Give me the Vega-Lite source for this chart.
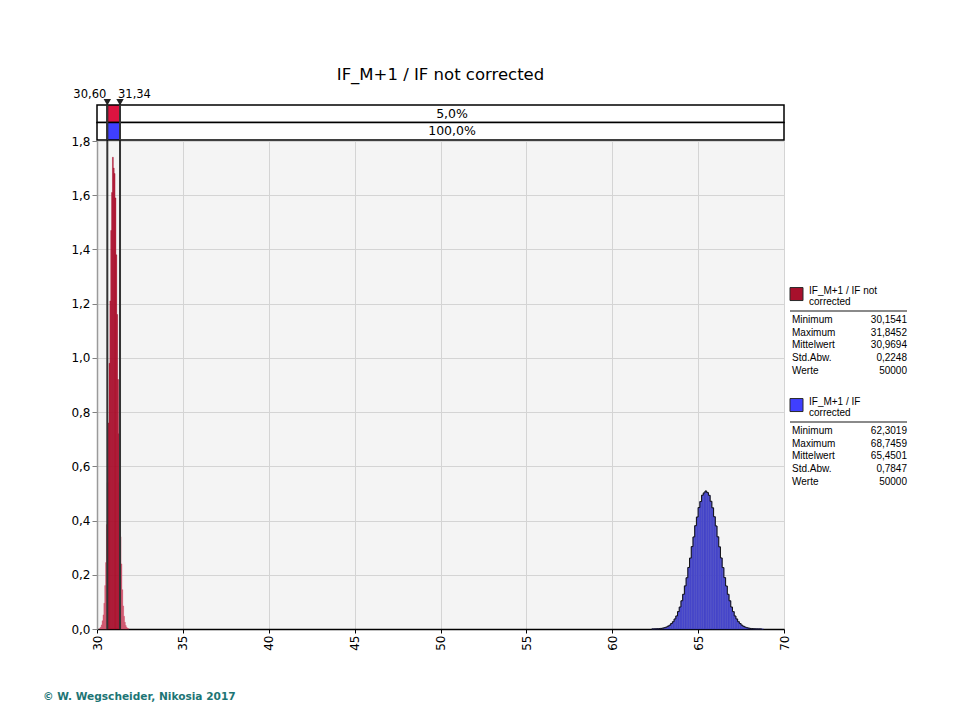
{
  "$schema": "https://vega.github.io/schema/vega-lite/v6.json",
  "padding": {"left": 42, "top": 67, "right": 10, "bottom": 10},
  "background": "white",
  "config": {
    "font": "DejaVu Sans",
    "view": {"stroke": null},
    "locale": {"number": {"decimal": ",", "thousands": ".", "grouping": [3], "currency": ["", " €"]}}
  },
  "title": {"text": "© W. Wegscheider, Nikosia 2017", "orient": "bottom", "anchor": "start", "font": "DejaVu Sans", "fontSize": 10.6, "fontWeight": "bold", "color": "#1d7575", "offset": 42, "dx": -28},
  "datasets": {
    "hist": [
      {"series": "not corrected", "x0": 30.15, "x1": 30.20, "density": 0.003},
      {"series": "not corrected", "x0": 30.20, "x1": 30.25, "density": 0.007},
      {"series": "not corrected", "x0": 30.25, "x1": 30.30, "density": 0.015},
      {"series": "not corrected", "x0": 30.30, "x1": 30.35, "density": 0.030},
      {"series": "not corrected", "x0": 30.35, "x1": 30.40, "density": 0.052},
      {"series": "not corrected", "x0": 30.40, "x1": 30.45, "density": 0.095},
      {"series": "not corrected", "x0": 30.45, "x1": 30.50, "density": 0.160},
      {"series": "not corrected", "x0": 30.50, "x1": 30.55, "density": 0.245},
      {"series": "not corrected", "x0": 30.55, "x1": 30.60, "density": 0.385},
      {"series": "not corrected", "x0": 30.60, "x1": 30.65, "density": 0.540},
      {"series": "not corrected", "x0": 30.65, "x1": 30.70, "density": 0.760},
      {"series": "not corrected", "x0": 30.70, "x1": 30.75, "density": 0.980},
      {"series": "not corrected", "x0": 30.75, "x1": 30.80, "density": 1.210},
      {"series": "not corrected", "x0": 30.80, "x1": 30.85, "density": 1.470},
      {"series": "not corrected", "x0": 30.85, "x1": 30.90, "density": 1.610},
      {"series": "not corrected", "x0": 30.90, "x1": 30.95, "density": 1.740},
      {"series": "not corrected", "x0": 30.95, "x1": 31.00, "density": 1.700},
      {"series": "not corrected", "x0": 31.00, "x1": 31.05, "density": 1.680},
      {"series": "not corrected", "x0": 31.05, "x1": 31.10, "density": 1.590},
      {"series": "not corrected", "x0": 31.10, "x1": 31.15, "density": 1.380},
      {"series": "not corrected", "x0": 31.15, "x1": 31.20, "density": 1.160},
      {"series": "not corrected", "x0": 31.20, "x1": 31.25, "density": 0.920},
      {"series": "not corrected", "x0": 31.25, "x1": 31.30, "density": 0.720},
      {"series": "not corrected", "x0": 31.30, "x1": 31.35, "density": 0.540},
      {"series": "not corrected", "x0": 31.35, "x1": 31.40, "density": 0.340},
      {"series": "not corrected", "x0": 31.40, "x1": 31.45, "density": 0.240},
      {"series": "not corrected", "x0": 31.45, "x1": 31.50, "density": 0.145},
      {"series": "not corrected", "x0": 31.50, "x1": 31.55, "density": 0.085},
      {"series": "not corrected", "x0": 31.55, "x1": 31.60, "density": 0.047},
      {"series": "not corrected", "x0": 31.60, "x1": 31.65, "density": 0.025},
      {"series": "not corrected", "x0": 31.65, "x1": 31.70, "density": 0.013},
      {"series": "not corrected", "x0": 31.70, "x1": 31.75, "density": 0.006},
      {"series": "not corrected", "x0": 31.75, "x1": 31.80, "density": 0.003},
      {"series": "not corrected", "x0": 31.80, "x1": 31.85, "density": 0.0013},
      {"series": "corrected", "x0": 62.3, "x1": 62.4, "density": 0.0002},
      {"series": "corrected", "x0": 62.4, "x1": 62.5, "density": 0.0003},
      {"series": "corrected", "x0": 62.5, "x1": 62.6, "density": 0.0006},
      {"series": "corrected", "x0": 62.6, "x1": 62.7, "density": 0.0009},
      {"series": "corrected", "x0": 62.7, "x1": 62.8, "density": 0.0013},
      {"series": "corrected", "x0": 62.8, "x1": 62.9, "density": 0.0022},
      {"series": "corrected", "x0": 62.9, "x1": 63.0, "density": 0.0031},
      {"series": "corrected", "x0": 63.0, "x1": 63.1, "density": 0.0048},
      {"series": "corrected", "x0": 63.1, "x1": 63.2, "density": 0.0068},
      {"series": "corrected", "x0": 63.2, "x1": 63.3, "density": 0.0102},
      {"series": "corrected", "x0": 63.3, "x1": 63.4, "density": 0.0139},
      {"series": "corrected", "x0": 63.4, "x1": 63.5, "density": 0.0201},
      {"series": "corrected", "x0": 63.5, "x1": 63.6, "density": 0.0268},
      {"series": "corrected", "x0": 63.6, "x1": 63.7, "density": 0.0370},
      {"series": "corrected", "x0": 63.7, "x1": 63.8, "density": 0.0481},
      {"series": "corrected", "x0": 63.8, "x1": 63.9, "density": 0.0642},
      {"series": "corrected", "x0": 63.9, "x1": 64.0, "density": 0.0810},
      {"series": "corrected", "x0": 64.0, "x1": 64.1, "density": 0.1041},
      {"series": "corrected", "x0": 64.1, "x1": 64.2, "density": 0.1280},
      {"series": "corrected", "x0": 64.2, "x1": 64.3, "density": 0.1590},
      {"series": "corrected", "x0": 64.3, "x1": 64.4, "density": 0.1890},
      {"series": "corrected", "x0": 64.4, "x1": 64.5, "density": 0.2270},
      {"series": "corrected", "x0": 64.5, "x1": 64.6, "density": 0.2615},
      {"series": "corrected", "x0": 64.6, "x1": 64.7, "density": 0.3040},
      {"series": "corrected", "x0": 64.7, "x1": 64.8, "density": 0.3395},
      {"series": "corrected", "x0": 64.8, "x1": 64.9, "density": 0.3810},
      {"series": "corrected", "x0": 64.9, "x1": 65.0, "density": 0.4130},
      {"series": "corrected", "x0": 65.0, "x1": 65.1, "density": 0.4480},
      {"series": "corrected", "x0": 65.1, "x1": 65.2, "density": 0.4700},
      {"series": "corrected", "x0": 65.2, "x1": 65.3, "density": 0.4935},
      {"series": "corrected", "x0": 65.3, "x1": 65.4, "density": 0.5020},
      {"series": "corrected", "x0": 65.4, "x1": 65.5, "density": 0.5090},
      {"series": "corrected", "x0": 65.5, "x1": 65.6, "density": 0.5030},
      {"series": "corrected", "x0": 65.6, "x1": 65.7, "density": 0.4930},
      {"series": "corrected", "x0": 65.7, "x1": 65.8, "density": 0.4710},
      {"series": "corrected", "x0": 65.8, "x1": 65.9, "density": 0.4470},
      {"series": "corrected", "x0": 65.9, "x1": 66.0, "density": 0.4140},
      {"series": "corrected", "x0": 66.0, "x1": 66.1, "density": 0.3800},
      {"series": "corrected", "x0": 66.1, "x1": 66.2, "density": 0.3400},
      {"series": "corrected", "x0": 66.2, "x1": 66.3, "density": 0.3030},
      {"series": "corrected", "x0": 66.3, "x1": 66.4, "density": 0.2620},
      {"series": "corrected", "x0": 66.4, "x1": 66.5, "density": 0.2265},
      {"series": "corrected", "x0": 66.5, "x1": 66.6, "density": 0.1895},
      {"series": "corrected", "x0": 66.6, "x1": 66.7, "density": 0.1585},
      {"series": "corrected", "x0": 66.7, "x1": 66.8, "density": 0.1280},
      {"series": "corrected", "x0": 66.8, "x1": 66.9, "density": 0.1040},
      {"series": "corrected", "x0": 66.9, "x1": 67.0, "density": 0.0810},
      {"series": "corrected", "x0": 67.0, "x1": 67.1, "density": 0.0640},
      {"series": "corrected", "x0": 67.1, "x1": 67.2, "density": 0.0480},
      {"series": "corrected", "x0": 67.2, "x1": 67.3, "density": 0.0370},
      {"series": "corrected", "x0": 67.3, "x1": 67.4, "density": 0.0268},
      {"series": "corrected", "x0": 67.4, "x1": 67.5, "density": 0.0200},
      {"series": "corrected", "x0": 67.5, "x1": 67.6, "density": 0.0141},
      {"series": "corrected", "x0": 67.6, "x1": 67.7, "density": 0.0099},
      {"series": "corrected", "x0": 67.7, "x1": 67.8, "density": 0.0070},
      {"series": "corrected", "x0": 67.8, "x1": 67.9, "density": 0.0046},
      {"series": "corrected", "x0": 67.9, "x1": 68.0, "density": 0.0033},
      {"series": "corrected", "x0": 68.0, "x1": 68.1, "density": 0.0021},
      {"series": "corrected", "x0": 68.1, "x1": 68.2, "density": 0.0014},
      {"series": "corrected", "x0": 68.2, "x1": 68.3, "density": 0.0009},
      {"series": "corrected", "x0": 68.3, "x1": 68.4, "density": 0.0005},
      {"series": "corrected", "x0": 68.4, "x1": 68.5, "density": 0.0003},
      {"series": "corrected", "x0": 68.5, "x1": 68.6, "density": 0.0002},
      {"series": "corrected", "x0": 68.6, "x1": 68.7, "density": 0.0001},
      {"series": "corrected", "x0": 68.7, "x1": 68.8, "density": 0.0001}
    ],
    "bands": [
      {"row": "not corrected", "zone": "left", "a": 30, "b": 30.60, "pct": 0.05},
      {"row": "not corrected", "zone": "mid", "a": 30.60, "b": 31.34, "pct": 0.90},
      {"row": "not corrected", "zone": "right", "a": 31.34, "b": 70, "pct": 0.05},
      {"row": "corrected", "zone": "left", "a": 30, "b": 30.60, "pct": 0.0},
      {"row": "corrected", "zone": "mid", "a": 30.60, "b": 31.34, "pct": 0.0},
      {"row": "corrected", "zone": "right", "a": 31.34, "b": 70, "pct": 1.0}
    ],
    "markers": [
      {"v": 30.60, "side": "lower"},
      {"v": 31.34, "side": "upper"}
    ],
    "legend": [
      {"series": "not corrected", "stat": "head", "label": "IF_M+1 / IF not\ncorrected"},
      {"series": "not corrected", "stat": "Minimum", "value": 30.1541},
      {"series": "not corrected", "stat": "Maximum", "value": 31.8452},
      {"series": "not corrected", "stat": "Mittelwert", "value": 30.9694},
      {"series": "not corrected", "stat": "Std.Abw.", "value": 0.2248},
      {"series": "not corrected", "stat": "Werte", "value": 50000},
      {"series": "corrected", "stat": "head", "label": "IF_M+1 / IF\ncorrected"},
      {"series": "corrected", "stat": "Minimum", "value": 62.3019},
      {"series": "corrected", "stat": "Maximum", "value": 68.7459},
      {"series": "corrected", "stat": "Mittelwert", "value": 65.4501},
      {"series": "corrected", "stat": "Std.Abw.", "value": 0.7847},
      {"series": "corrected", "stat": "Werte", "value": 50000}
    ]
  },
  "bounds": "full",
  "spacing": -2,
  "hconcat": [
    {
      "bounds": "flush",
      "spacing": 1,
      "vconcat": [
        {
          "width": 687,
          "height": 35,
          "title": {"text": "IF_M+1 / IF not corrected", "font": "DejaVu Sans", "fontSize": 16.5, "fontWeight": "normal", "color": "black", "anchor": "middle", "offset": 5},
          "layer": [
            {
              "data": {"name": "bands"},
              "mark": {"type": "rect", "stroke": "black", "strokeWidth": 1.5},
              "encoding": {
                "x": {"field": "a", "type": "quantitative", "scale": {"domain": [30, 70], "nice": false, "zero": false}, "axis": null},
                "x2": {"field": "b"},
                "y": {"field": "row", "type": "nominal", "scale": {"type": "band", "domain": ["not corrected", "corrected"], "paddingInner": 0, "paddingOuter": 0}, "axis": null},
                "fill": {"condition": [
                  {"test": "datum.zone === 'mid' && datum.row === 'not corrected'", "value": "#dc1440"},
                  {"test": "datum.zone === 'mid'", "value": "#3f3fff"}
                ], "value": "white"}
              }
            },
            {
              "data": {"name": "bands"},
              "transform": [{"filter": "datum.zone === 'right'"}, {"calculate": "(datum.a + datum.b) / 2", "as": "mid"}],
              "mark": {"type": "text", "fontSize": 12.5, "baseline": "middle", "color": "black"},
              "encoding": {
                "x": {"field": "mid", "type": "quantitative"},
                "y": {"field": "row", "type": "nominal"},
                "text": {"field": "pct", "type": "quantitative", "format": ".1%"}
              }
            },
            {
              "data": {"name": "markers"},
              "mark": {"type": "rule", "color": "#333333", "strokeWidth": 2},
              "encoding": {"x": {"field": "v", "type": "quantitative"}}
            },
            {
              "data": {"name": "markers"},
              "mark": {"type": "point", "shape": "triangle-down", "filled": true, "size": 55, "color": "#222222", "opacity": 1, "yOffset": -11.5},
              "encoding": {
                "x": {"field": "v", "type": "quantitative"},
                "y": {"datum": "not corrected", "type": "nominal"}
              }
            },
            {
              "data": {"name": "markers"},
              "transform": [{"filter": "datum.side === 'lower'"}],
              "mark": {"type": "text", "align": "right", "baseline": "alphabetic", "fontSize": 11.5, "dx": -1, "yOffset": -16, "color": "black"},
              "encoding": {
                "x": {"field": "v", "type": "quantitative"},
                "y": {"datum": "not corrected", "type": "nominal"},
                "text": {"field": "v", "type": "quantitative", "format": ".2f"}
              }
            },
            {
              "data": {"name": "markers"},
              "transform": [{"filter": "datum.side === 'upper'"}],
              "mark": {"type": "text", "align": "left", "baseline": "alphabetic", "fontSize": 11.5, "dx": -2, "yOffset": -16, "color": "black"},
              "encoding": {
                "x": {"field": "v", "type": "quantitative"},
                "y": {"datum": "not corrected", "type": "nominal"},
                "text": {"field": "v", "type": "quantitative", "format": ".2f"}
              }
            }
          ]
        },
        {
          "width": 687,
          "height": 488,
          "view": {"fill": "#f4f4f4", "stroke": null},
          "layer": [
            {
              "data": {"name": "hist"},
              "mark": {"type": "rect", "strokeWidth": 0.4},
              "encoding": {
                "x": {"field": "x0", "type": "quantitative", "scale": {"domain": [30, 70], "nice": false, "zero": false},
                  "axis": {"values": [30, 35, 40, 45, 50, 55, 60, 65, 70], "format": "d", "labelAngle": 270, "labelFontSize": 12, "labelColor": "black", "labelPadding": 2, "grid": true, "gridColor": "#d4d4d4", "domainColor": "black", "domainWidth": 1.5, "tickColor": "black", "tickSize": 4, "title": null}},
                "x2": {"field": "x1"},
                "y": {"field": "density", "type": "quantitative", "scale": {"domain": [0, 1.8], "nice": false},
                  "axis": {"values": [0, 0.2, 0.4, 0.6, 0.8, 1.0, 1.2, 1.4, 1.6, 1.8], "format": ".1f", "labelFontSize": 12, "labelColor": "black", "labelPadding": 2, "grid": true, "gridColor": "#d4d4d4", "domainColor": "#9a9a9a", "domainWidth": 1.5, "tickColor": "#808080", "tickSize": 5, "title": null}},
                "y2": {"datum": 0},
                "fill": {"condition": [
                  {"test": "datum.series === 'not corrected' && datum.x0 >= 30.599 && datum.x1 <= 31.351", "value": "#b8102f"},
                  {"test": "datum.series === 'not corrected'", "value": "#cf506a"}
                ], "value": "#4b4bcf"},
                "stroke": {"condition": [
                  {"test": "datum.series === 'not corrected' && datum.x0 >= 30.599 && datum.x1 <= 31.351", "value": "#a00c28"},
                  {"test": "datum.series === 'not corrected'", "value": "#cf506a"}
                ], "value": "#3a3ab8"}
              }
            },
            {
              "data": {"name": "hist"},
              "transform": [{"filter": "datum.series === 'corrected'"}],
              "mark": {"type": "line", "interpolate": "step-after", "color": "#111111", "strokeWidth": 1},
              "encoding": {
                "x": {"field": "x0", "type": "quantitative"},
                "y": {"field": "density", "type": "quantitative"}
              }
            },
            {
              "data": {"name": "markers"},
              "mark": {"type": "rule", "color": "#333333", "strokeWidth": 2},
              "encoding": {"x": {"field": "v", "type": "quantitative"}}
            }
          ]
        }
      ]
    },
    {
      "bounds": "flush",
      "spacing": 35,
      "vconcat": [
        {
          "width": 117,
          "height": 160.5,
          "data": {"values": [{"t": ""}]},
          "mark": {"type": "text"},
          "encoding": {"text": {"field": "t", "type": "nominal"}}
        },
        {
          "width": 117,
          "height": 76,
          "data": {"name": "legend"},
          "transform": [{"filter": "datum.series === 'not corrected'"}],
          "encoding": {
            "y": {"field": "stat", "type": "nominal", "scale": {"type": "band", "domain": ["head", "Minimum", "Maximum", "Mittelwert", "Std.Abw.", "Werte"], "paddingInner": 0, "paddingOuter": 0}, "axis": null}
          },
          "layer": [
            {
              "transform": [{"filter": "datum.stat === 'head'"}],
              "mark": {"type": "rule", "color": "#8a8a8a", "strokeWidth": 2, "yOffset": 3.7},
              "encoding": {}
            },
            {
              "transform": [{"filter": "datum.stat === 'head'"}],
              "mark": {"type": "square", "size": 169, "filled": true, "opacity": 1, "color": "#a8102c", "stroke": "#2a2a2a", "strokeWidth": 1, "xOffset": 6.5, "yOffset": -13.3},
              "encoding": {"x": {"datum": 0, "type": "quantitative", "scale": {"domain": [0, 1]}, "axis": null}}
            },
            {
              "transform": [{"filter": "datum.stat === 'head'"}],
              "mark": {"type": "text", "align": "left", "baseline": "alphabetic", "font": "Liberation Sans", "fontSize": 10, "lineBreak": "\n", "lineHeight": 11, "xOffset": 19, "yOffset": -13.8, "color": "black"},
              "encoding": {"x": {"datum": 0, "type": "quantitative"}, "text": {"field": "label", "type": "nominal"}}
            },
            {
              "transform": [{"filter": "datum.stat !== 'head'"}],
              "mark": {"type": "text", "align": "left", "baseline": "middle", "font": "Liberation Sans", "fontSize": 10, "xOffset": 2, "color": "black"},
              "encoding": {"x": {"datum": 0, "type": "quantitative"}, "text": {"field": "stat", "type": "nominal"}}
            },
            {
              "transform": [{"filter": "datum.stat !== 'head' && datum.stat !== 'Werte'"}],
              "mark": {"type": "text", "align": "right", "baseline": "middle", "font": "Liberation Sans", "fontSize": 10, "color": "black"},
              "encoding": {"x": {"datum": 1, "type": "quantitative"}, "text": {"field": "value", "type": "quantitative", "format": ".4f"}}
            },
            {
              "transform": [{"filter": "datum.stat === 'Werte'"}],
              "mark": {"type": "text", "align": "right", "baseline": "middle", "font": "Liberation Sans", "fontSize": 10, "color": "black"},
              "encoding": {"x": {"datum": 1, "type": "quantitative"}, "text": {"field": "value", "type": "quantitative", "format": "d"}}
            }
          ]
        },
        {
          "width": 117,
          "height": 76,
          "data": {"name": "legend"},
          "transform": [{"filter": "datum.series === 'corrected'"}],
          "encoding": {
            "y": {"field": "stat", "type": "nominal", "scale": {"type": "band", "domain": ["head", "Minimum", "Maximum", "Mittelwert", "Std.Abw.", "Werte"], "paddingInner": 0, "paddingOuter": 0}, "axis": null}
          },
          "layer": [
            {
              "transform": [{"filter": "datum.stat === 'head'"}],
              "mark": {"type": "rule", "color": "#8a8a8a", "strokeWidth": 2, "yOffset": 3.7},
              "encoding": {}
            },
            {
              "transform": [{"filter": "datum.stat === 'head'"}],
              "mark": {"type": "square", "size": 169, "filled": true, "opacity": 1, "color": "#3f3fff", "stroke": "#2a2a2a", "strokeWidth": 1, "xOffset": 6.5, "yOffset": -13.3},
              "encoding": {"x": {"datum": 0, "type": "quantitative", "scale": {"domain": [0, 1]}, "axis": null}}
            },
            {
              "transform": [{"filter": "datum.stat === 'head'"}],
              "mark": {"type": "text", "align": "left", "baseline": "alphabetic", "font": "Liberation Sans", "fontSize": 10, "lineBreak": "\n", "lineHeight": 11, "xOffset": 19, "yOffset": -13.8, "color": "black"},
              "encoding": {"x": {"datum": 0, "type": "quantitative"}, "text": {"field": "label", "type": "nominal"}}
            },
            {
              "transform": [{"filter": "datum.stat !== 'head'"}],
              "mark": {"type": "text", "align": "left", "baseline": "middle", "font": "Liberation Sans", "fontSize": 10, "xOffset": 2, "color": "black"},
              "encoding": {"x": {"datum": 0, "type": "quantitative"}, "text": {"field": "stat", "type": "nominal"}}
            },
            {
              "transform": [{"filter": "datum.stat !== 'head' && datum.stat !== 'Werte'"}],
              "mark": {"type": "text", "align": "right", "baseline": "middle", "font": "Liberation Sans", "fontSize": 10, "color": "black"},
              "encoding": {"x": {"datum": 1, "type": "quantitative"}, "text": {"field": "value", "type": "quantitative", "format": ".4f"}}
            },
            {
              "transform": [{"filter": "datum.stat === 'Werte'"}],
              "mark": {"type": "text", "align": "right", "baseline": "middle", "font": "Liberation Sans", "fontSize": 10, "color": "black"},
              "encoding": {"x": {"datum": 1, "type": "quantitative"}, "text": {"field": "value", "type": "quantitative", "format": "d"}}
            }
          ]
        }
      ]
    }
  ]
}
